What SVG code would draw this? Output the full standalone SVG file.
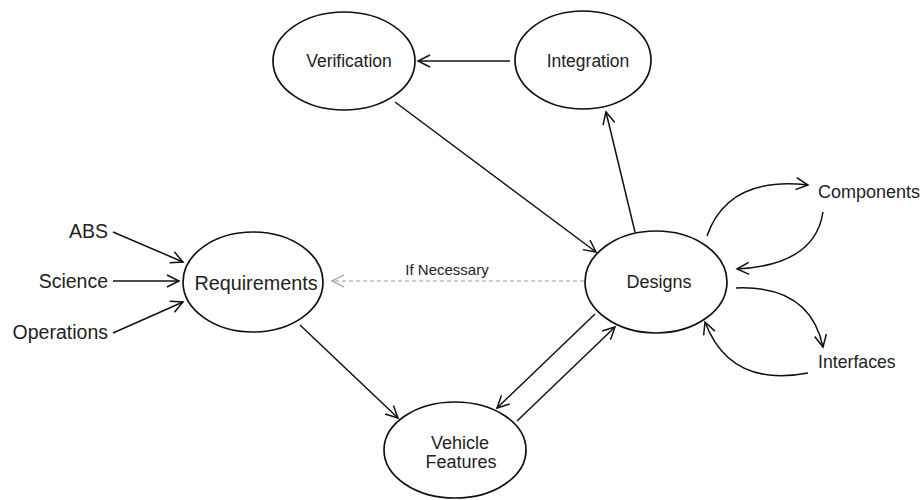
<svg xmlns="http://www.w3.org/2000/svg" width="922" height="500" viewBox="0 0 922 500">
<style>
.n ellipse{fill:#fff;stroke:#111;stroke-width:1.7}
text{font-family:"Liberation Sans",Arial,sans-serif;fill:#222}
.c path,.c line{fill:none;stroke:#111;stroke-width:1.5}
.c .d{stroke:#999;stroke-width:1.2;stroke-dasharray:4 3}
</style>
<defs>
<marker id="a" markerUnits="userSpaceOnUse" markerWidth="16" markerHeight="16" refX="13" refY="7" orient="auto">
<path d="M1,1 L13,7 L1,13" fill="none" stroke="#111" stroke-width="1.5"/>
</marker>
<marker id="g" markerUnits="userSpaceOnUse" markerWidth="16" markerHeight="16" refX="13" refY="7" orient="auto">
<path d="M1,1 L13,7 L1,13" fill="none" stroke="#999" stroke-width="1.2"/>
</marker>
</defs>
<rect width="922" height="500" fill="#fff"/>
<g class="c">
<line x1="510" y1="61" x2="418" y2="61" marker-end="url(#a)"/>
<line x1="395" y1="102" x2="596" y2="252" marker-end="url(#a)"/>
<line x1="635" y1="232" x2="606" y2="112" marker-end="url(#a)"/>
<line x1="113" y1="232" x2="183" y2="262" marker-end="url(#a)"/>
<line x1="113" y1="281" x2="179" y2="281" marker-end="url(#a)"/>
<line x1="113" y1="333" x2="183" y2="302" marker-end="url(#a)"/>
<line class="d" x1="584" y1="281" x2="332" y2="281" marker-end="url(#g)"/>
<line x1="300" y1="325" x2="398" y2="418" marker-end="url(#a)"/>
<line x1="595" y1="314" x2="497" y2="408" marker-end="url(#a)"/>
<line x1="517" y1="421" x2="615" y2="327" marker-end="url(#a)"/>
<path d="M707,236 Q728,176 808,185" marker-end="url(#a)"/>
<path d="M823,212 Q815,265 737,269" marker-end="url(#a)"/>
<path d="M736,288 Q810,285 823,347" marker-end="url(#a)"/>
<path d="M808,373 Q730,388 705,322" marker-end="url(#a)"/>
</g>
<g id="verification" class="n"><ellipse cx="344" cy="61" rx="71" ry="49"/><text x="349" y="67" font-size="17.5" text-anchor="middle">Verification</text></g>
<g id="integration" class="n"><ellipse cx="583" cy="60" rx="68" ry="49"/><text x="588" y="67" font-size="17.5" text-anchor="middle">Integration</text></g>
<g id="requirements" class="n"><ellipse cx="253" cy="282" rx="70" ry="50"/><text x="256" y="290" font-size="19.8" text-anchor="middle">Requirements</text></g>
<g id="designs" class="n"><ellipse cx="656" cy="282" rx="71" ry="51"/><text x="659" y="288" font-size="18" text-anchor="middle">Designs</text></g>
<g id="vehicle-features" class="n"><ellipse cx="455" cy="450" rx="71" ry="48"/><text x="460" y="449" font-size="18" text-anchor="middle">Vehicle</text><text x="461" y="468" font-size="18" text-anchor="middle">Features</text></g>
<g id="abs"><text x="108" y="238" font-size="19.5" text-anchor="end">ABS</text></g>
<g id="science"><text x="108" y="288" font-size="19.5" text-anchor="end">Science</text></g>
<g id="operations"><text x="108" y="339" font-size="19.5" text-anchor="end">Operations</text></g>
<g id="components"><text x="818" y="198" font-size="18">Components</text></g>
<g id="interfaces"><text x="818" y="368" font-size="17.7">Interfaces</text></g>
<g id="label-if-necessary"><text x="447" y="275" font-size="15" text-anchor="middle">If Necessary</text></g>
</svg>
